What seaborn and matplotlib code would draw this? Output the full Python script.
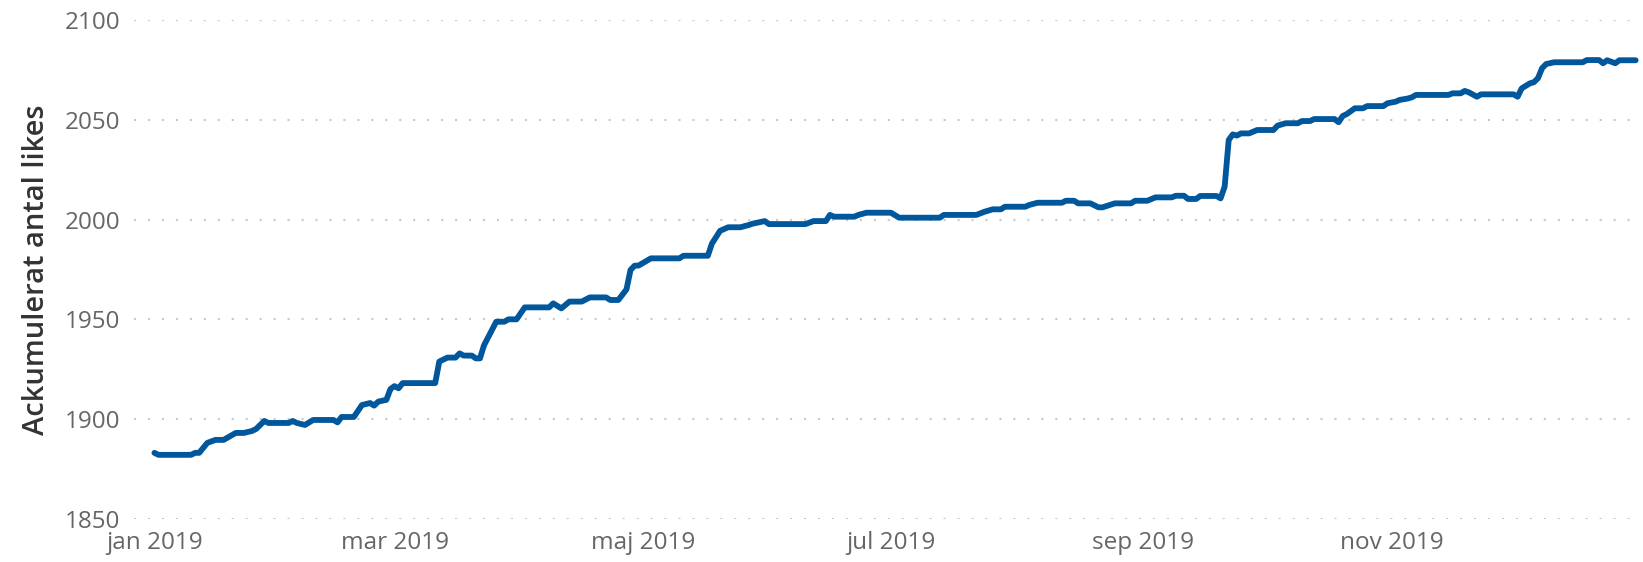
import matplotlib
matplotlib.use("Agg")
import matplotlib.pyplot as plt
import pandas as pd
import seaborn as sns

# day offset from 2019-01-01 and cumulative likes
days = [0, 1, 9, 10, 11, 13, 15, 17, 20, 22, 24, 25, 27, 28, 33, 34, 35, 37, 39, 44,
        45, 46, 49, 51, 53, 54, 55, 57, 58, 59, 60, 61, 69, 70, 72, 74, 75, 76, 78, 79,
        80, 81, 84, 86, 87, 89, 91, 97, 98, 100, 102, 105, 107, 111, 112, 114, 116, 117, 118, 119,
        122, 129, 130, 136, 137, 139, 141, 144, 146, 147, 150, 151, 160, 162, 165, 166, 167, 172, 173, 175,
        181, 183, 193, 194, 202, 204, 206, 208, 209, 214, 215, 217, 223, 224, 226, 227, 230, 232, 233, 236,
        240, 241, 244, 246, 250, 251, 253, 254, 256, 257, 261, 262, 263, 264, 265, 266, 267, 269, 271, 275,
        276, 278, 281, 282, 284, 285, 290, 291, 292, 293, 295, 297, 298, 302, 303, 305, 306, 308, 309, 310,
        318, 319, 321, 322, 323, 325, 326, 334, 335, 336, 338, 339, 340, 341, 342, 344, 351, 352, 355, 356,
        357, 359, 360, 364]
likes = [1883, 1882, 1882, 1883, 1883, 1888, 1889.5, 1889.5, 1893, 1893, 1894, 1895, 1899, 1898, 1898, 1899, 1898, 1897, 1899.5, 1899.5,
         1898.3, 1901, 1901, 1907, 1908, 1906.7, 1908.7, 1909.6, 1915, 1916.5, 1915.4, 1918, 1918, 1928.8, 1930.8, 1930.8, 1932.9, 1931.8, 1931.8, 1930.4,
         1930.4, 1937, 1948.8, 1948.8, 1950, 1950, 1956, 1956, 1958, 1955.5, 1958.9, 1958.9, 1961, 1961, 1959.7, 1959.7, 1965, 1974.8, 1976.9, 1977,
         1980.6, 1980.6, 1981.9, 1981.9, 1988, 1994.4, 1996.2, 1996.2, 1997.3, 1998, 1999.3, 1997.8, 1997.8, 1999.3, 1999.3, 2002.4, 2001.5, 2001.5, 2002.4, 2003.5,
         2003.5, 2001, 2001, 2002.4, 2002.4, 2004, 2005.2, 2005.2, 2006.5, 2006.5, 2007.4, 2008.5, 2008.5, 2009.5, 2009.5, 2008.2, 2008.2, 2006.2, 2006.2, 2008.2,
         2008.2, 2009.5, 2009.5, 2011.2, 2011.2, 2012, 2012, 2010.4, 2010.4, 2011.9, 2011.9, 2010.7, 2016.6, 2040, 2042.8, 2042.2, 2043.3, 2043.3, 2045, 2045,
         2047.2, 2048.4, 2048.4, 2049.5, 2049.5, 2050.5, 2050.5, 2048.9, 2052, 2053, 2055.9, 2055.9, 2057, 2057, 2058.4, 2059.2, 2060.1, 2060.8, 2061.4, 2062.6,
         2062.6, 2063.4, 2063.4, 2064.6, 2063.9, 2061.7, 2062.9, 2062.9, 2061.7, 2065.9, 2068.4, 2069, 2071, 2076, 2078.1, 2079, 2079, 2080.1, 2080.1, 2078.5,
         2080, 2078.5, 2080, 2080]

tick_dates = ["2019-01-01", "2019-03-01", "2019-05-01", "2019-07-01", "2019-09-01", "2019-11-01"]
tick_labels = ["jan 2019", "mar 2019", "maj 2019", "jul 2019", "sep 2019", "nov 2019"]
y_ticks = [1850, 1900, 1950, 2000, 2050, 2100]

df = pd.DataFrame({
    "datum": pd.Timestamp("2019-01-01") + pd.to_timedelta(days, unit="D"),
    "likes": likes,
})

sns.set_style("white")
plt.rcParams["font.family"] = ["Open Sans", "DejaVu Sans"]

fig = plt.figure(figsize=(16.43, 5.62), dpi=100)
ax = fig.add_axes([0.0816, 0.0772, 0.9164, 0.8865])

sns.lineplot(data=df, x="datum", y="likes", ax=ax, color="#00579c",
             linewidth=4.2, solid_capstyle="round", solid_joinstyle="round")

ax.set_xlim(pd.Timestamp("2018-12-27"), pd.Timestamp("2020-01-01"))
ax.set_ylim(1850, 2100)
ax.set_yticks(y_ticks)
ax.set_yticklabels([str(t) for t in y_ticks])
ax.set_xticks(pd.to_datetime(tick_dates))
ax.set_xticklabels(tick_labels)

ax.grid(axis="y", color="#c8c8c8", linestyle=(0, (1, 5.7)), linewidth=1.5)
ax.grid(axis="x", visible=False)
for s in ax.spines.values():
    s.set_visible(False)

ax.tick_params(axis="both", length=0, labelsize=17.5, labelcolor="#666666")
ax.tick_params(axis="y", pad=10)
ax.tick_params(axis="x", pad=9)
ax.set_xlabel("")
ax.set_ylabel("Ackumulerat antal likes", fontsize=21, fontweight="semibold",
              color="#333333", labelpad=10)

fig.savefig("out.png", dpi=100)
